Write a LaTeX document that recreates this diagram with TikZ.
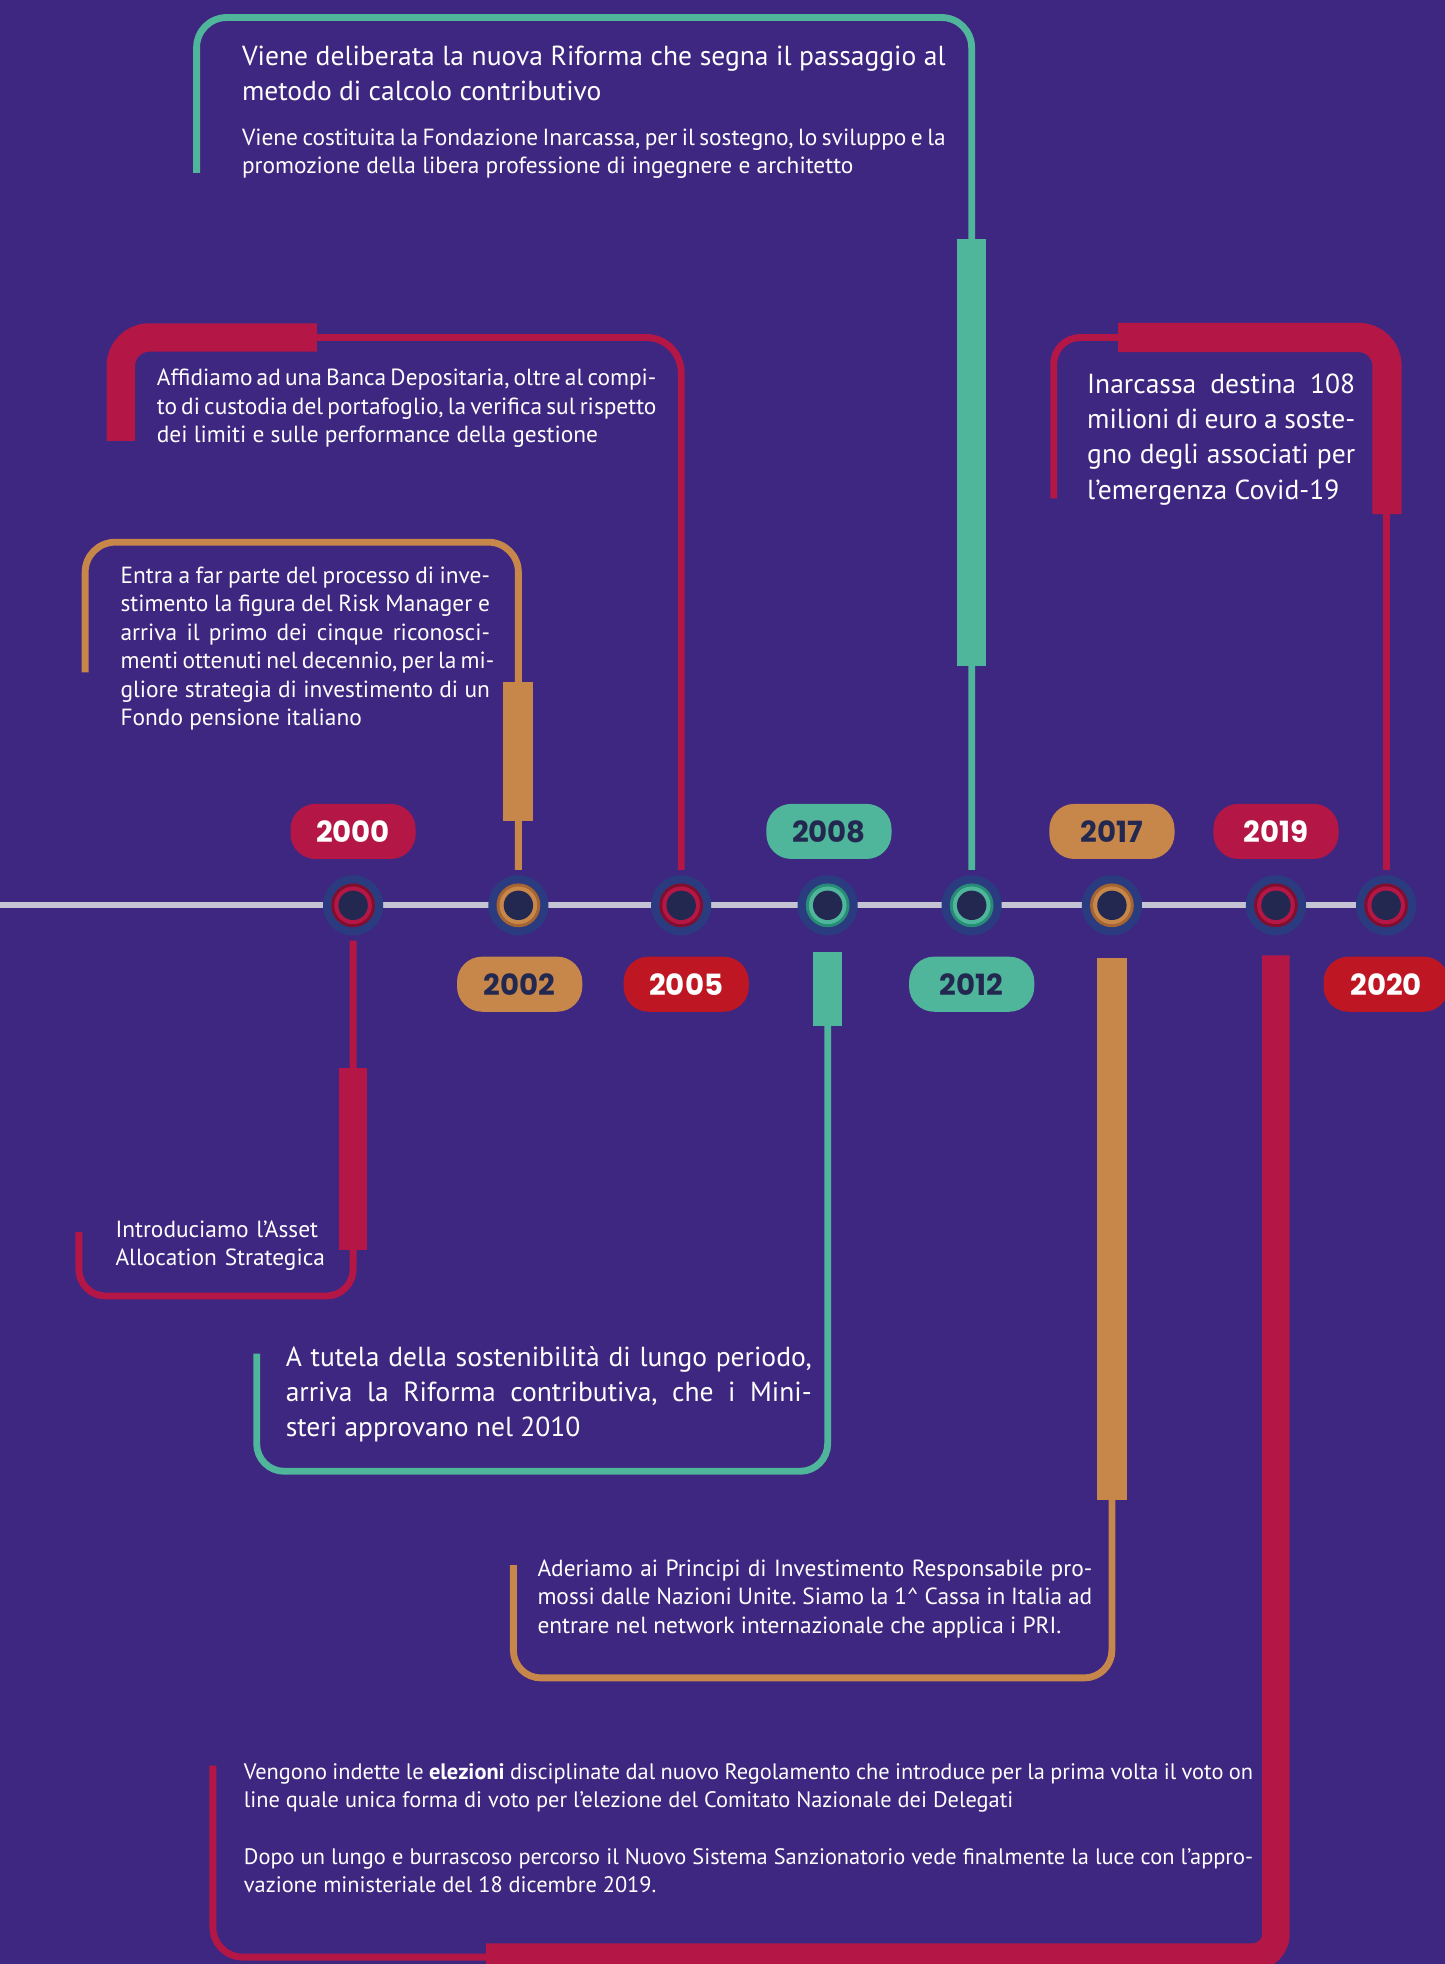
\documentclass[tikz,border=0pt]{standalone}
\usepackage{fontspec}
\setmainfont{PT Sans}
\newfontfamily\yearfont{Poppins}
\definecolor{bg}{RGB}{62,39,128}
\definecolor{crim}{RGB}{180,23,70}
\definecolor{crimdk}{RGB}{128,14,44}
\definecolor{teal}{RGB}{79,181,155}
\definecolor{tealdk}{RGB}{38,140,118}
\definecolor{ochre}{RGB}{199,134,74}
\definecolor{ochredk}{RGB}{165,100,48}
\definecolor{redp}{RGB}{190,23,35}
\definecolor{navy}{RGB}{35,40,80}
\definecolor{ring}{RGB}{43,59,128}
\definecolor{tline}{RGB}{196,196,212}
\frenchspacing
\newcommand\jl[1]{\makebox[\linewidth][s]{#1}\\}
\newcommand\tlcirc[4]{%
  \node[circle,fill=ring,minimum size=36pt,inner sep=0pt] (#1) at (#2,723) {};
  \fill[#4] (#1.center) circle (13.1pt);
  \fill[#3] (#1.center) circle (11.3pt);
  \fill[navy] (#1.center) circle (8.8pt);
}
\tikzset{
  pill/.style={rounded corners=15pt,minimum width=75pt,minimum height=33pt,inner sep=0pt,
    font=\yearfont\bfseries\fontsize{17.5}{17.5}\selectfont},
  thinln/.style={line width=4.1pt,rounded corners=#1},
  thickln/.style={line width=17pt},
  smalltxt/.style={anchor=base west,inner sep=0pt,text=white,align=justify,
    font=\fontsize{14}{17}\selectfont},
  bigtxt/.style={anchor=base west,inner sep=0pt,text=white,align=justify,
    font=\fontsize{16.5}{21.2}\selectfont},
}
\begin{document}
\begin{tikzpicture}[x=0.75pt,y=-0.75pt]
\fill[bg] (0,0) rectangle (1154,1568.5);
\useasboundingbox (0,0) rectangle (1154,1568.5);

% timeline
\coordinate (tl0) at (0,723);
\coordinate (tl1) at (1125,723);
\draw[tline,line width=3.8pt] (tl0) -- (tl1);

\tlcirc{c2000}{282}{crim}{crimdk}
\tlcirc{c2002}{414}{ochre}{ochredk}
\tlcirc{c2005}{544}{crim}{crimdk}
\tlcirc{c2008}{661}{teal}{tealdk}
\tlcirc{c2012}{776}{teal}{tealdk}
\tlcirc{c2017}{888}{ochre}{ochredk}
\tlcirc{c2019}{1019}{crim}{crimdk}
\tlcirc{c2020}{1107}{crim}{crimdk}

% pills
\node[pill,fill=crim,text=white] (p2000) at (282,664) {2000};
\node[pill,fill=ochre,text=navy] (p2002) at (415,786) {2002};
\node[pill,fill=redp,text=white] (p2005) at (548,786) {2005};
\node[pill,fill=teal,text=navy] (p2008) at (662,664) {2008};
\node[pill,fill=teal,text=navy] (p2012) at (776,786) {2012};
\node[pill,fill=ochre,text=navy] (p2017) at (888,664) {2017};
\node[pill,fill=crim,text=white] (p2019) at (1019,664) {2019};
\node[pill,fill=redp,text=white] (p2020) at (1107,786) {2020};

% 2000 connector
\coordinate (k2000a) at (63,1035);
\coordinate (k2000b) at (63,984);
\draw[crim,thinln=16pt] ([yshift=-3pt]c2000.south) -- (c2000 |- k2000a) -- (k2000a) -- (k2000b);
\draw[crim,thickln] (c2000 |- 0,853) -- (c2000 |- 0,998);

% 2002 connector
\coordinate (k2002a) at (68,433);
\coordinate (k2002b) at (68,537);
\draw[ochre,thinln=18pt] ([yshift=3pt]c2002.north) -- (c2002 |- k2002a) -- (k2002a) -- (k2002b);
\draw[ochre,line width=18pt] (c2002 |- 0,545) -- (c2002 |- 0,656);

% 2005 connector
\coordinate (k2005a) at (253,269.5);
\coordinate (k2005b) at (96.5,269.5);
\coordinate (k2005c) at (96.5,352);
\draw[crim,thinln=21pt] ([yshift=3pt]c2005.north) -- (c2005 |- k2005a) -- (k2005a);
\draw[crim,thickln,rounded corners=17pt] (k2005a) -- (k2005b) -- (k2005c);

% 2008 connector
\coordinate (k2008a) at (205,1175);
\coordinate (k2008b) at (205,1081);
\draw[teal,thinln=16.5pt] (c2008 |- 0,815) -- (c2008 |- k2008a) -- (k2008a) -- (k2008b);
\draw[teal,thickln] (c2008 |- 0,760) -- (c2008 |- 0,819);

% 2012 connector
\coordinate (k2012a) at (157,14);
\coordinate (k2012b) at (157,138);
\draw[teal,thinln=18pt] ([yshift=3pt]c2012.north) -- (c2012 |- k2012a) -- (k2012a) -- (k2012b);
\draw[teal,thickln] (c2012 |- 0,191) -- (c2012 |- 0,532);

% 2017 connector
\coordinate (k2017a) at (410,1340);
\coordinate (k2017b) at (410,1250);
\draw[ochre,thinln=16.5pt] (c2017 |- 0,1190) -- (c2017 |- k2017a) -- (k2017a) -- (k2017b);
\draw[ochre,line width=18pt] (c2017 |- 0,765) -- (c2017 |- 0,1198);

% 2019 connector
\coordinate (k2019a) at (388,1563);
\coordinate (k2019b) at (170,1563);
\coordinate (k2019c) at (170,1410);
\draw[crim,thinln=18pt] (k2019a) -- (k2019b) -- (k2019c);
\draw[crim,line width=16.5pt,rounded corners=14pt] (c2019 |- 0,763) -- (c2019 |- k2019a) -- (k2019a);

% 2020 connector
\coordinate (k2020a) at (893,269.5);
\coordinate (k2020b) at (841.5,269.5);
\coordinate (k2020c) at (841.5,398);
\draw[crim,thinln=4pt] ([yshift=3pt]c2020.north) -- (c2020 |- 0,405);
\draw[crim,thinln=16pt] (k2020a) -- (k2020b) -- (k2020c);
\draw[crim,line width=17.5pt,rounded corners=17pt] (k2020a) -- (1107.7,269.5) -- (1107.7,410.5);

% texts
\node[bigtxt,text width=421.5pt] (t2012a) at (193,52) {%
\jl{Viene deliberata la nuova Riforma che segna il passaggio al}
metodo di calcolo contributivo};
\node[smalltxt,text width=421.5pt] (t2012b) at (193,116) {%
\jl{Viene costituita la Fondazione Inarcassa, per il sostegno, lo sviluppo e la}
promozione della libera professione di ingegnere e architetto};

\node[smalltxt,text width=294.75pt] (t2005) at (125,308) {%
\jl{Affidiamo ad una Banca Depositaria, oltre al compi-}
\jl{to di custodia del portafoglio, la verifica sul rispetto}
dei limiti e sulle performance della gestione};

\node[smalltxt,text width=221.25pt] (t2002) at (96,466) {%
\jl{Entra a far parte del processo di inve-}
\jl{stimento la figura del Risk Manager e}
\jl{arriva il primo dei cinque riconosci-}
\jl{menti ottenuti nel decennio, per la mi-}
\jl{gliore strategia di investimento di un}
Fondo pensione italiano};

\node[bigtxt,text width=160.5pt] (t2020) at (868,314) {%
\jl{Inarcassa destina 108}
\jl{milioni di euro a soste-}
\jl{gno degli associati per}
l’emergenza Covid-19};

\node[smalltxt,text width=160pt,align=left] (t2000) at (92,988) {%
Introduciamo l’Asset\\Allocation Strategica};

\node[bigtxt,text width=315pt] (t2008) at (228,1091) {%
\jl{A tutela della sostenibilità di lungo periodo,}
\jl{arriva la Riforma contributiva, che i Mini-}
steri approvano nel 2010};

\node[smalltxt,text width=332.25pt] (t2017) at (429,1259) {%
\jl{Aderiamo ai Principi di Investimento Responsabile pro-}
\jl{mossi dalle Nazioni Unite. Siamo la 1\^{} Cassa in Italia ad}
entrare nel network internazionale che applica i PRI.};

\node[smalltxt,text width=604.5pt,font=\fontsize{13.4}{17}\selectfont] (t2019) at (194.5,1421) {%
\jl{Vengono indette le \textbf{elezioni} disciplinate dal nuovo Regolamento che introduce per la prima volta il voto on}
line quale unica forma di voto per l’elezione del Comitato Nazionale dei Delegati\\[17pt]
\jl{Dopo un lungo e burrascoso percorso il Nuovo Sistema Sanzionatorio vede finalmente la luce con l’appro-}
vazione ministeriale del 18 dicembre 2019.};
\end{tikzpicture}
\end{document}
